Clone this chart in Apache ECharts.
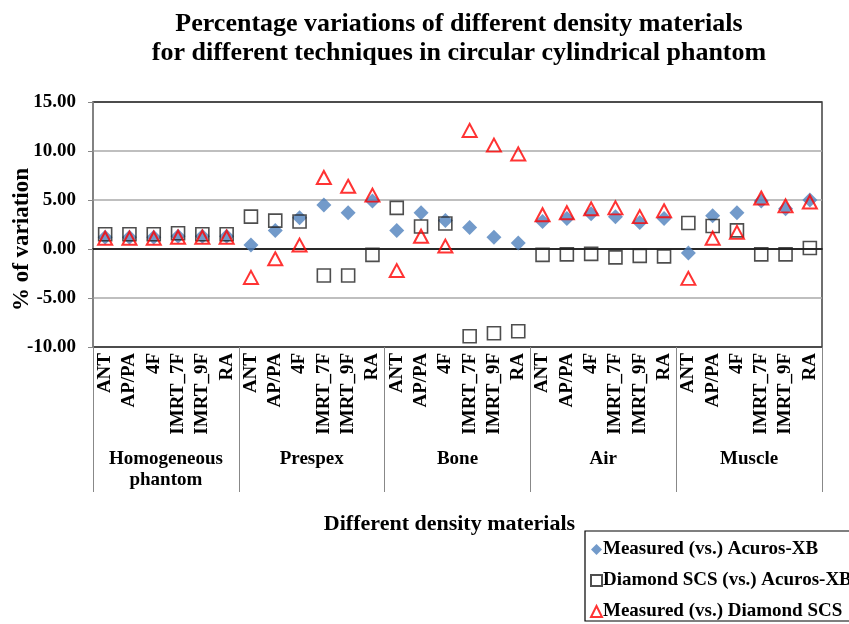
<!DOCTYPE html>
<html>
<head>
<meta charset="utf-8">
<script src="https://cdn.jsdelivr.net/npm/echarts@6/dist/echarts.min.js"></script>
<style>html,body{margin:0;padding:0;background:#fff}#c{width:849px;height:624px}</style>
</head>
<body>
<div id="c"></div>
<script>
const techniques = ['ANT','AP/PA','4F','IMRT_7F','IMRT_9F','RA'];
const groups = ['Homogeneous\nphantom','Prespex','Bone','Air','Muscle'];
const categories = [].concat(techniques, techniques, techniques, techniques, techniques);
const yTicks = [-10, -5, 0, 5, 10, 15];

const measuredVsAcuros = [1.2,1.2,1.2,1.3,1.3,1.3, 0.4,1.9,3.2,4.5,3.7,4.9, 1.9,3.7,2.9,2.2,1.2,0.6, 2.8,3.1,3.6,3.3,2.7,3.1, -0.4,3.4,3.7,4.9,4.1,5.0];
const diamondVsAcuros = [1.5,1.5,1.5,1.6,1.5,1.5, 3.3,2.9,2.8,-2.7,-2.7,-0.6, 4.2,2.3,2.6,-8.9,-8.6,-8.4, -0.6,-0.55,-0.5,-0.85,-0.7,-0.75, 2.65,2.35,1.9,-0.55,-0.55,0.1];
const measuredVsDiamond = [1.1,1.1,1.1,1.2,1.2,1.2, -2.9,-1.0,0.4,7.3,6.4,5.5, -2.2,1.3,0.3,12.1,10.6,9.7, 3.5,3.7,4.1,4.2,3.3,3.9, -3.0,1.1,1.7,5.2,4.4,4.8];

const FONT = '"Liberation Serif", "Times New Roman", serif';
const chart = echarts.init(document.getElementById('c'), null, {renderer: 'canvas'});
chart.setOption({
  animation: false,
  backgroundColor: '#fff',
  title: {
    text: 'Percentage variations of different density materials\nfor different techniques in circular cylindrical phantom',
    left: 454, top: 5, textAlign: 'center',
    textStyle: {fontFamily: FONT, fontWeight: 'bold', fontSize: 26, lineHeight: 29, color: '#000'}
  },
  grid: {left: 93, right: 27, top: 102, bottom: 277, show: true, borderColor: '#404040', borderWidth: 1.5, containLabel: false, outerBoundsMode: 'none'},
  legend: {
    orient: 'vertical', left: 585, top: 531,
    padding: [9, 6, 0, 5], itemGap: 12, itemWidth: 11, itemHeight: 11,
    borderColor: '#000', borderWidth: 1.2, backgroundColor: '#fff',
    textStyle: {fontFamily: FONT, fontWeight: 'bold', fontSize: 19, lineHeight: 19, color: '#000', padding: [0, 0, 0, -4]},
    data: ['Measured (vs.) Acuros-XB', 'Diamond SCS (vs.) Acuros-XB', 'Measured (vs.) Diamond SCS']
  },
  xAxis: [{
    type: 'category', data: categories, boundaryGap: true,
    axisLine: {show: true, lineStyle: {color: '#000', width: 1.5}},
    axisTick: {show: false},
    axisLabel: {interval: 0, rotate: 90, margin: 6, fontFamily: FONT, fontWeight: 'bold', fontSize: 19, color: '#000'},
    splitLine: {show: false}
  }, {
    type: 'category', data: groups, position: 'bottom', boundaryGap: true,
    axisLine: {show: false},
    axisTick: {show: true, length: 145, inside: false, lineStyle: {color: '#888', width: 1}},
    axisLabel: {interval: 0, margin: 102, fontFamily: FONT, fontWeight: 'bold', fontSize: 19, lineHeight: 21, color: '#000'},
    name: 'Different density materials', nameLocation: 'middle', nameGap: 166,
    nameTextStyle: {fontFamily: FONT, fontWeight: 'bold', fontSize: 22, color: '#000', padding: [0, 16, 0, 0]}
  }],
  yAxis: {
    type: 'value', min: -10, max: 15, interval: 5,
    name: '% of variation', nameLocation: 'middle', nameRotate: 90, nameGap: 59, nameMoveOverlap: false,
    nameTextStyle: {fontFamily: FONT, fontWeight: 'bold', fontSize: 23, color: '#000', padding: [0, 30, 0, 0]},
    axisLine: {show: true, lineStyle: {color: '#888', width: 1.5}},
    axisTick: {show: true, length: 5, lineStyle: {color: '#888'}},
    axisLabel: {margin: 17, formatter: v => v.toFixed(2), fontFamily: FONT, fontWeight: 'bold', fontSize: 19, color: '#000'},
    splitLine: {show: true, lineStyle: {color: ['#404040', '#aaa', '#888', '#aaa', '#aaa', '#404040'], width: 1.5}}
  },
  series: [{
    name: 'Measured (vs.) Acuros-XB', type: 'scatter', data: measuredVsAcuros,
    symbol: 'diamond', symbolSize: 15, z: 2,
    itemStyle: {color: '#4f81bd'}
  }, {
    name: 'Diamond SCS (vs.) Acuros-XB', type: 'scatter', data: diamondVsAcuros,
    symbol: 'rect', symbolSize: 13, z: 3,
    itemStyle: {color: 'rgba(0,0,0,0)', borderColor: '#222', borderWidth: 1.6}
  }, {
    name: 'Measured (vs.) Diamond SCS', type: 'scatter', data: measuredVsDiamond,
    symbol: 'triangle', symbolSize: [14, 13], z: 4,
    itemStyle: {color: 'rgba(0,0,0,0)', borderColor: '#ff0000', borderWidth: 2}
  }]
});
</script>
</body>
</html>
